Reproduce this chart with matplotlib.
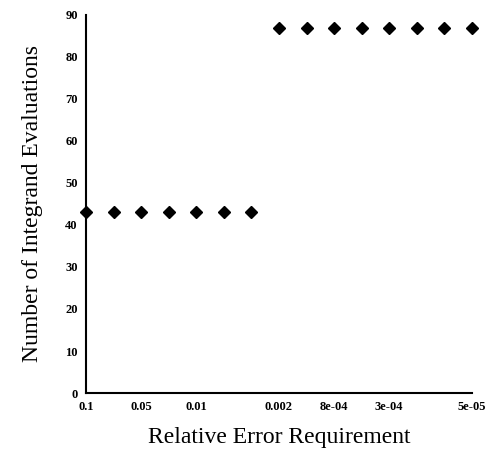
import matplotlib.pyplot as plt

# relative error requirement steps (categorical, evenly spaced)
error_steps = list(range(15))
evaluations = [43, 43, 43, 43, 43, 43, 43, 87, 87, 87, 87, 87, 87, 87, 87]
tick_pos = [0, 2, 4, 7, 9, 11, 14]
tick_labels = ['0.1', '0.05', '0.01', '0.002', '8e-04', '3e-04', '5e-05']

plt.rcParams['font.family'] = ['Liberation Serif', 'DejaVu Serif']

fig = plt.figure(figsize=(4.89, 4.61), dpi=100)
ax = fig.add_axes([0.176, 0.1475, 0.789, 0.82])

ax.plot(error_steps, evaluations, linestyle='none', marker='D',
        markersize=5.8, color='black', clip_on=False, zorder=3)

ax.set_xlim(0, 14)
ax.set_ylim(0, 90)
ax.set_yticks(range(0, 91, 10))
ax.set_xticks(tick_pos)
ax.set_xticklabels(tick_labels)

for s in ['top', 'right']:
    ax.spines[s].set_visible(False)
ax.spines['left'].set_linewidth(1.5)
ax.spines['bottom'].set_linewidth(1.5)
ax.tick_params(length=0, labelsize=9, pad=6)
for lab in ax.get_xticklabels() + ax.get_yticklabels():
    lab.set_fontweight('bold')

ax.set_xlabel('Relative Error Requirement', fontsize=17, labelpad=10)
ax.set_ylabel('Number of Integrand Evaluations', fontsize=17, labelpad=16)

fig.savefig('out.png', dpi=100)
